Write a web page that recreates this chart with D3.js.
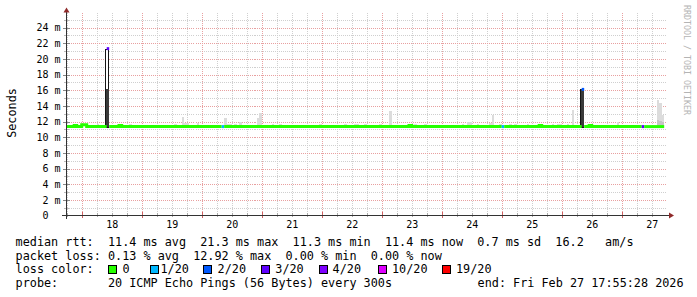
<!DOCTYPE html>
<html>
<head>
<meta charset="utf-8">
<script src="https://cdn.jsdelivr.net/npm/d3@7"></script>
<style>
body{margin:0;background:#fff;}
svg{display:block;font-family:"DejaVu Sans Mono",monospace;}
.legend text{font-size:11.8px;white-space:pre;fill:#000;}
.tick text{white-space:pre;}
</style>
</head>
<body>
<div id="display"></div>
<script>
// graph period (UTC), 1 hour bins
const startTime=new Date(Date.UTC(2026,1,17,17,55,28));
const endTime=new Date(Date.UTC(2026,1,27,17,55,28));
const firstBin=new Date(Date.UTC(2026,1,17,18,0,0));

const xTickLabels=[`18`,`19`,`20`,`21`,`22`,`23`,`24`,`25`,`26`,`27`];
const yTickValues=[0,2,4,6,8,10,12,14,16,18,20,22,24];
const yTickLabels=[`0  `,`2 m`,`4 m`,`6 m`,`8 m`,`10 m`,`12 m`,`14 m`,`16 m`,`18 m`,`20 m`,`22 m`,`24 m`];

const lossLabels=[`0`,`1/20`,`2/20`,`3/20`,`4/20`,`10/20`,`19/20`];

// median rtt runs: [from bin, to bin, ms, loss index]
const medianRuns=[
    [0,3,11.35,0],[3,4,11.5,0],[4,6,11.35,0],[6,8,11.6,0],[8,16,11.35,0],
    [16,17,21.3,3],[17,21,11.35,0],[21,22,11.5,0],[22,62,11.35,0],[62,63,11.35,1],
    [63,137,11.35,0],[137,138,11.5,0],[138,174,11.35,0],[174,175,11.35,1],[175,189,11.35,0],
    [189,190,11.5,0],[190,206,11.35,0],[206,207,16.1,2],[207,209,11.35,0],[209,210,11.5,0],
    [210,230,11.35,0],[230,231,11.35,3],[231,239,11.35,0]
];

// light smoke: [bin, top ms]
const smokeBars=[
    [12,11.65],[20,11.65],[25,11.65],[43,11.65],[46,12.6],[47,11.8],[48,11.8],[52,11.8],
    [63,12.5],[64,11.65],[65,11.65],[67,11.65],[69,12.0],[76,12.5],[77,13.1],[82,11.65],
    [85,11.65],[101,11.7],[111,11.65],[115,11.65],[116,11.65],[119,11.7],[125,11.7],[129,13.3],
    [136,11.65],[137,11.65],[139,11.65],[143,11.65],[158,11.65],[160,12.0],[161,11.9],[164,11.65],
    [169,11.8],[170,12.8],[173,11.7],[177,11.65],[179,11.65],[184,11.65],[194,11.65],[196,11.65],
    [197,11.65],[200,11.65],[202,13.5],[220,11.9],[236,14.8],[237,14.3],[238,12.8]
];
// denser smoke: [bin, top ms]
const smokeDense=[[236,12.2],[237,12.1],[238,12.0]];
// rtt spikes: [bin, max ms, dense top ms]
const spikeBars=[[16,21.3,16.2],[206,16.1,16.1]];
const smokeBase=11.3;

const rttStats=[`11.4 ms avg`,`21.3 ms max`,`11.3 ms min`,`11.4 ms now`,`0.7 ms sd`,`16.2   am/s`];
const lossStats=[`0.13 % avg`,`12.92 % max`,`0.00 % min`,`0.00 % now`];
const probeText=`20 ICMP Echo Pings (56 Bytes) every 300s`;
const endText=`end: Fri Feb 27 17:55:28 2026`;

let Setting={
    color:{
        '0':`#26ff00`,'1/20':`#00b8ff`,'2/20':`#0059ff`,'3/20':`#5e00ff`,
        '4/20':`#7e00ff`,'10/20':`#dd00ff`,'19/20':`#ff0000`
    },
    smoke:`#dcdcdc`,smokeDense:`#c4c4c4`,spikeLine:`#151515`,spikeFill:`#3a3a3a`,
    grid:`#cfcfcf`,mgrid:`#e8a0a0`,axis:`#333`,arrow:`#8f2a2a`,
    legendBoxX:[107.7,150,203.3,261,319.3,377.7,442.3],
    legendTextX:[122.6,160.5,217.6,275.3,332.6,392,456]
};

const hour=3600*1000;
const binTime=(k)=>new Date(firstBin.getTime()+k*hour);

let Smokegraph={
    generateGraph(container){
        return d3.select(container).append(`svg`)
            .attr(`width`,697)
            .attr(`height`,297);
    },
    generateScales(){
        let x=d3.scaleUtc().domain([startTime,endTime]).range([66.5,666.5]);
        let y=d3.scaleLinear().domain([0,25.8]).range([215.5,13.4]);
        return {x,y};
    },
    //dotted grid, minor first then major
    generateGrid(svg,x,y){
        let g=svg.append(`g`).attr(`class`,`grid`).attr(`shape-rendering`,`crispEdges`);
        let minorH=d3.range(1,26,2);
        let minorV=d3.utcHour.every(6).range(startTime,endTime).filter(d=>d.getUTCHours()!=0);
        let majorV=d3.utcDay.range(startTime,endTime);

        g.selectAll(`.mh`).data(minorH).enter().append(`line`)
            .attr(`x1`,x.range()[0]).attr(`x2`,x.range()[1])
            .attr(`y1`,d=>Math.round(y(d))+0.5).attr(`y2`,d=>Math.round(y(d))+0.5)
            .attr(`stroke`,Setting.grid).attr(`stroke-dasharray`,`1,1`);
        g.selectAll(`.mv`).data(minorV).enter().append(`line`)
            .attr(`x1`,d=>Math.round(x(d))+0.5).attr(`x2`,d=>Math.round(x(d))+0.5)
            .attr(`y1`,y.range()[1]).attr(`y2`,215)
            .attr(`stroke`,Setting.grid).attr(`stroke-dasharray`,`1,1`);
        g.selectAll(`.Mh`).data(yTickValues.slice(1)).enter().append(`line`)
            .attr(`x1`,x.range()[0]).attr(`x2`,x.range()[1])
            .attr(`y1`,d=>Math.round(y(d))+0.5).attr(`y2`,d=>Math.round(y(d))+0.5)
            .attr(`stroke`,Setting.mgrid).attr(`stroke-dasharray`,`1,1`);
        g.selectAll(`.Mv`).data(majorV).enter().append(`line`)
            .attr(`x1`,d=>Math.round(x(d))+0.5).attr(`x2`,d=>Math.round(x(d))+0.5)
            .attr(`y1`,y.range()[1]).attr(`y2`,215)
            .attr(`stroke`,Setting.mgrid).attr(`stroke-dasharray`,`1,1`);

        //small ticks on the axes
        g.selectAll(`.tv`).data(majorV).enter().append(`line`)
            .attr(`x1`,d=>Math.round(x(d))+0.5).attr(`x2`,d=>Math.round(x(d))+0.5)
            .attr(`y1`,212).attr(`y2`,218).attr(`stroke`,`#d06060`);
        g.selectAll(`.tvm`).data(minorV).enter().append(`line`)
            .attr(`x1`,d=>Math.round(x(d))+0.5).attr(`x2`,d=>Math.round(x(d))+0.5)
            .attr(`y1`,213).attr(`y2`,217).attr(`stroke`,`#aaa`);
        g.selectAll(`.th`).data(yTickValues.slice(1)).enter().append(`line`)
            .attr(`x1`,63).attr(`x2`,70)
            .attr(`y1`,d=>Math.round(y(d))+0.5).attr(`y2`,d=>Math.round(y(d))+0.5)
            .attr(`stroke`,`#888`);
        g.selectAll(`.thm`).data(minorH).enter().append(`line`)
            .attr(`x1`,64).attr(`x2`,69)
            .attr(`y1`,d=>Math.round(y(d))+0.5).attr(`y2`,d=>Math.round(y(d))+0.5)
            .attr(`stroke`,`#bbb`);
    },
    //grey smoke bars
    generateSmoke(svg,x,y){
        let g=svg.append(`g`).attr(`class`,`smoke`).attr(`shape-rendering`,`crispEdges`);
        let bar=(sel,data,color)=>{
            sel.selectAll(null).data(data).enter().append(`rect`)
                .attr(`x`,d=>x(binTime(d[0])))
                .attr(`width`,d=>x(binTime(d[0]+1))-x(binTime(d[0])))
                .attr(`y`,d=>y(d[1]))
                .attr(`height`,d=>y(smokeBase)-y(d[1]))
                .attr(`fill`,color);
        };
        bar(g,smokeBars,Setting.smoke);
        bar(g,smokeDense,Setting.smokeDense);

        //spikes: thin outlined column with dense lower part
        g.selectAll(`.spike`).data(spikeBars).enter().append(`rect`)
            .attr(`x`,d=>Math.round(x(binTime(d[0])))-1.5)
            .attr(`width`,3)
            .attr(`y`,d=>Math.round(y(d[1]))+0.5)
            .attr(`height`,d=>y(smokeBase)-Math.round(y(d[1])))
            .attr(`fill`,`#fff`)
            .attr(`stroke`,Setting.spikeLine)
            .attr(`stroke-width`,1);
        g.selectAll(`.dense`).data(spikeBars).enter().append(`rect`)
            .attr(`x`,d=>Math.round(x(binTime(d[0])))-1)
            .attr(`width`,3)
            .attr(`y`,d=>y(d[2]))
            .attr(`height`,d=>y(smokeBase)-y(d[2]))
            .attr(`fill`,Setting.spikeFill);
    },
    //median line coloured by loss, one path per continuous run
    generateMedian(svg,x,y){
        let paths=[];
        medianRuns.forEach(r=>{
            let last=paths[paths.length-1];
            if(last&&last.loss==r[3]&&last.end==r[0]){
                last.points.pop();
                last.points.push([r[0],r[2]],[r[1],r[2]]);
                last.end=r[1];
            }
            else paths.push({loss:r[3],end:r[1],points:[[r[0],r[2]],[r[1],r[2]]]});
        });
        let line=d3.line()
            .x(d=>x(binTime(d[0])))
            .y(d=>y(d[1]))
            .curve(d3.curveStepAfter);
        svg.append(`g`).attr(`class`,`median`)
            .selectAll(`path`).data(paths).enter().append(`path`)
            .attr(`d`,d=>line(d.points))
            .attr(`fill`,`none`)
            .attr(`stroke`,d=>Setting.color[lossLabels[d.loss]])
            .attr(`stroke-width`,3);
    },
    generateAxis(svg,x,y){
        let yAxis=svg.append(`g`)
            .attr(`transform`,`translate(66.5,0)`)
            .call(d3.axisLeft(y).tickValues(yTickValues).tickSize(0).tickPadding(6)
                .tickFormat((d,i)=>yTickLabels[i]));
        yAxis.select(`.domain`).remove();
        yAxis.selectAll(`text`).attr(`font-family`,`DejaVu Sans Mono`).attr(`font-size`,`10px`).attr(`fill`,`#000`);

        let noons=xTickLabels.map(d=>new Date(Date.UTC(2026,1,+d,12)));
        let xAxis=svg.append(`g`)
            .attr(`transform`,`translate(0,215)`)
            .call(d3.axisBottom(x).tickValues(noons).tickSize(0).tickPadding(5.5)
                .tickFormat((d,i)=>xTickLabels[i]));
        xAxis.select(`.domain`).remove();
        xAxis.selectAll(`text`).attr(`font-family`,`DejaVu Sans Mono`).attr(`font-size`,`10px`).attr(`fill`,`#000`);

        //axis lines and arrows
        svg.append(`line`).attr(`x1`,62).attr(`x2`,670).attr(`y1`,215.5).attr(`y2`,215.5)
            .attr(`stroke`,Setting.axis);
        svg.append(`line`).attr(`x1`,66.5).attr(`x2`,66.5).attr(`y1`,219).attr(`y2`,11)
            .attr(`stroke`,Setting.axis);
        svg.append(`path`).attr(`d`,`M66.5,7.5L63.5,12.5L69.5,12.5Z`).attr(`fill`,Setting.arrow);
        svg.append(`path`).attr(`d`,`M674,215.5L669,212.5L669,218.5Z`).attr(`fill`,Setting.arrow);

        svg.append(`text`)
            .attr(`transform`,`translate(15.5,113) rotate(-90)`)
            .attr(`text-anchor`,`middle`)
            .attr(`font-size`,`11.8px`)
            .text(`Seconds`);
        svg.append(`text`)
            .attr(`transform`,`translate(683.5,5) rotate(90)`)
            .attr(`font-size`,`8.3px`)
            .attr(`fill`,`#b4b4b4`)
            .text(`RRDTOOL / TOBI OETIKER`);
    },
    generateLegend(svg){
        let g=svg.append(`g`).attr(`class`,`legend`);
        g.append(`text`).attr(`x`,15.6).attr(`y`,246).text(`median rtt:  ${rttStats.join(`  `)}`);
        g.append(`text`).attr(`x`,15.6).attr(`y`,259.6).text(`packet loss: ${lossStats.join(`  `)}`);
        g.append(`text`).attr(`x`,15.6).attr(`y`,273.2).text(`loss color:`);
        g.append(`text`).attr(`x`,15.6).attr(`y`,286.8).text(`probe:       ${probeText}`);
        g.append(`text`).attr(`x`,477.6).attr(`y`,286.8).text(endText);

        g.selectAll(`rect`).data(lossLabels).enter().append(`rect`)
            .attr(`x`,(d,i)=>Math.round(Setting.legendBoxX[i])+0.5)
            .attr(`y`,265.5)
            .attr(`width`,8).attr(`height`,8)
            .attr(`fill`,d=>Setting.color[d])
            .attr(`stroke`,`#000`);
        g.selectAll(`.lbl`).data(lossLabels).enter().append(`text`)
            .attr(`x`,(d,i)=>Setting.legendTextX[i])
            .attr(`y`,273.2)
            .text(d=>d);
    }
};

let svg=Smokegraph.generateGraph(`#display`);
let {x,y}=Smokegraph.generateScales();
Smokegraph.generateGrid(svg,x,y);
Smokegraph.generateSmoke(svg,x,y);
Smokegraph.generateMedian(svg,x,y);
Smokegraph.generateAxis(svg,x,y);
Smokegraph.generateLegend(svg);
</script>
</body>
</html>
